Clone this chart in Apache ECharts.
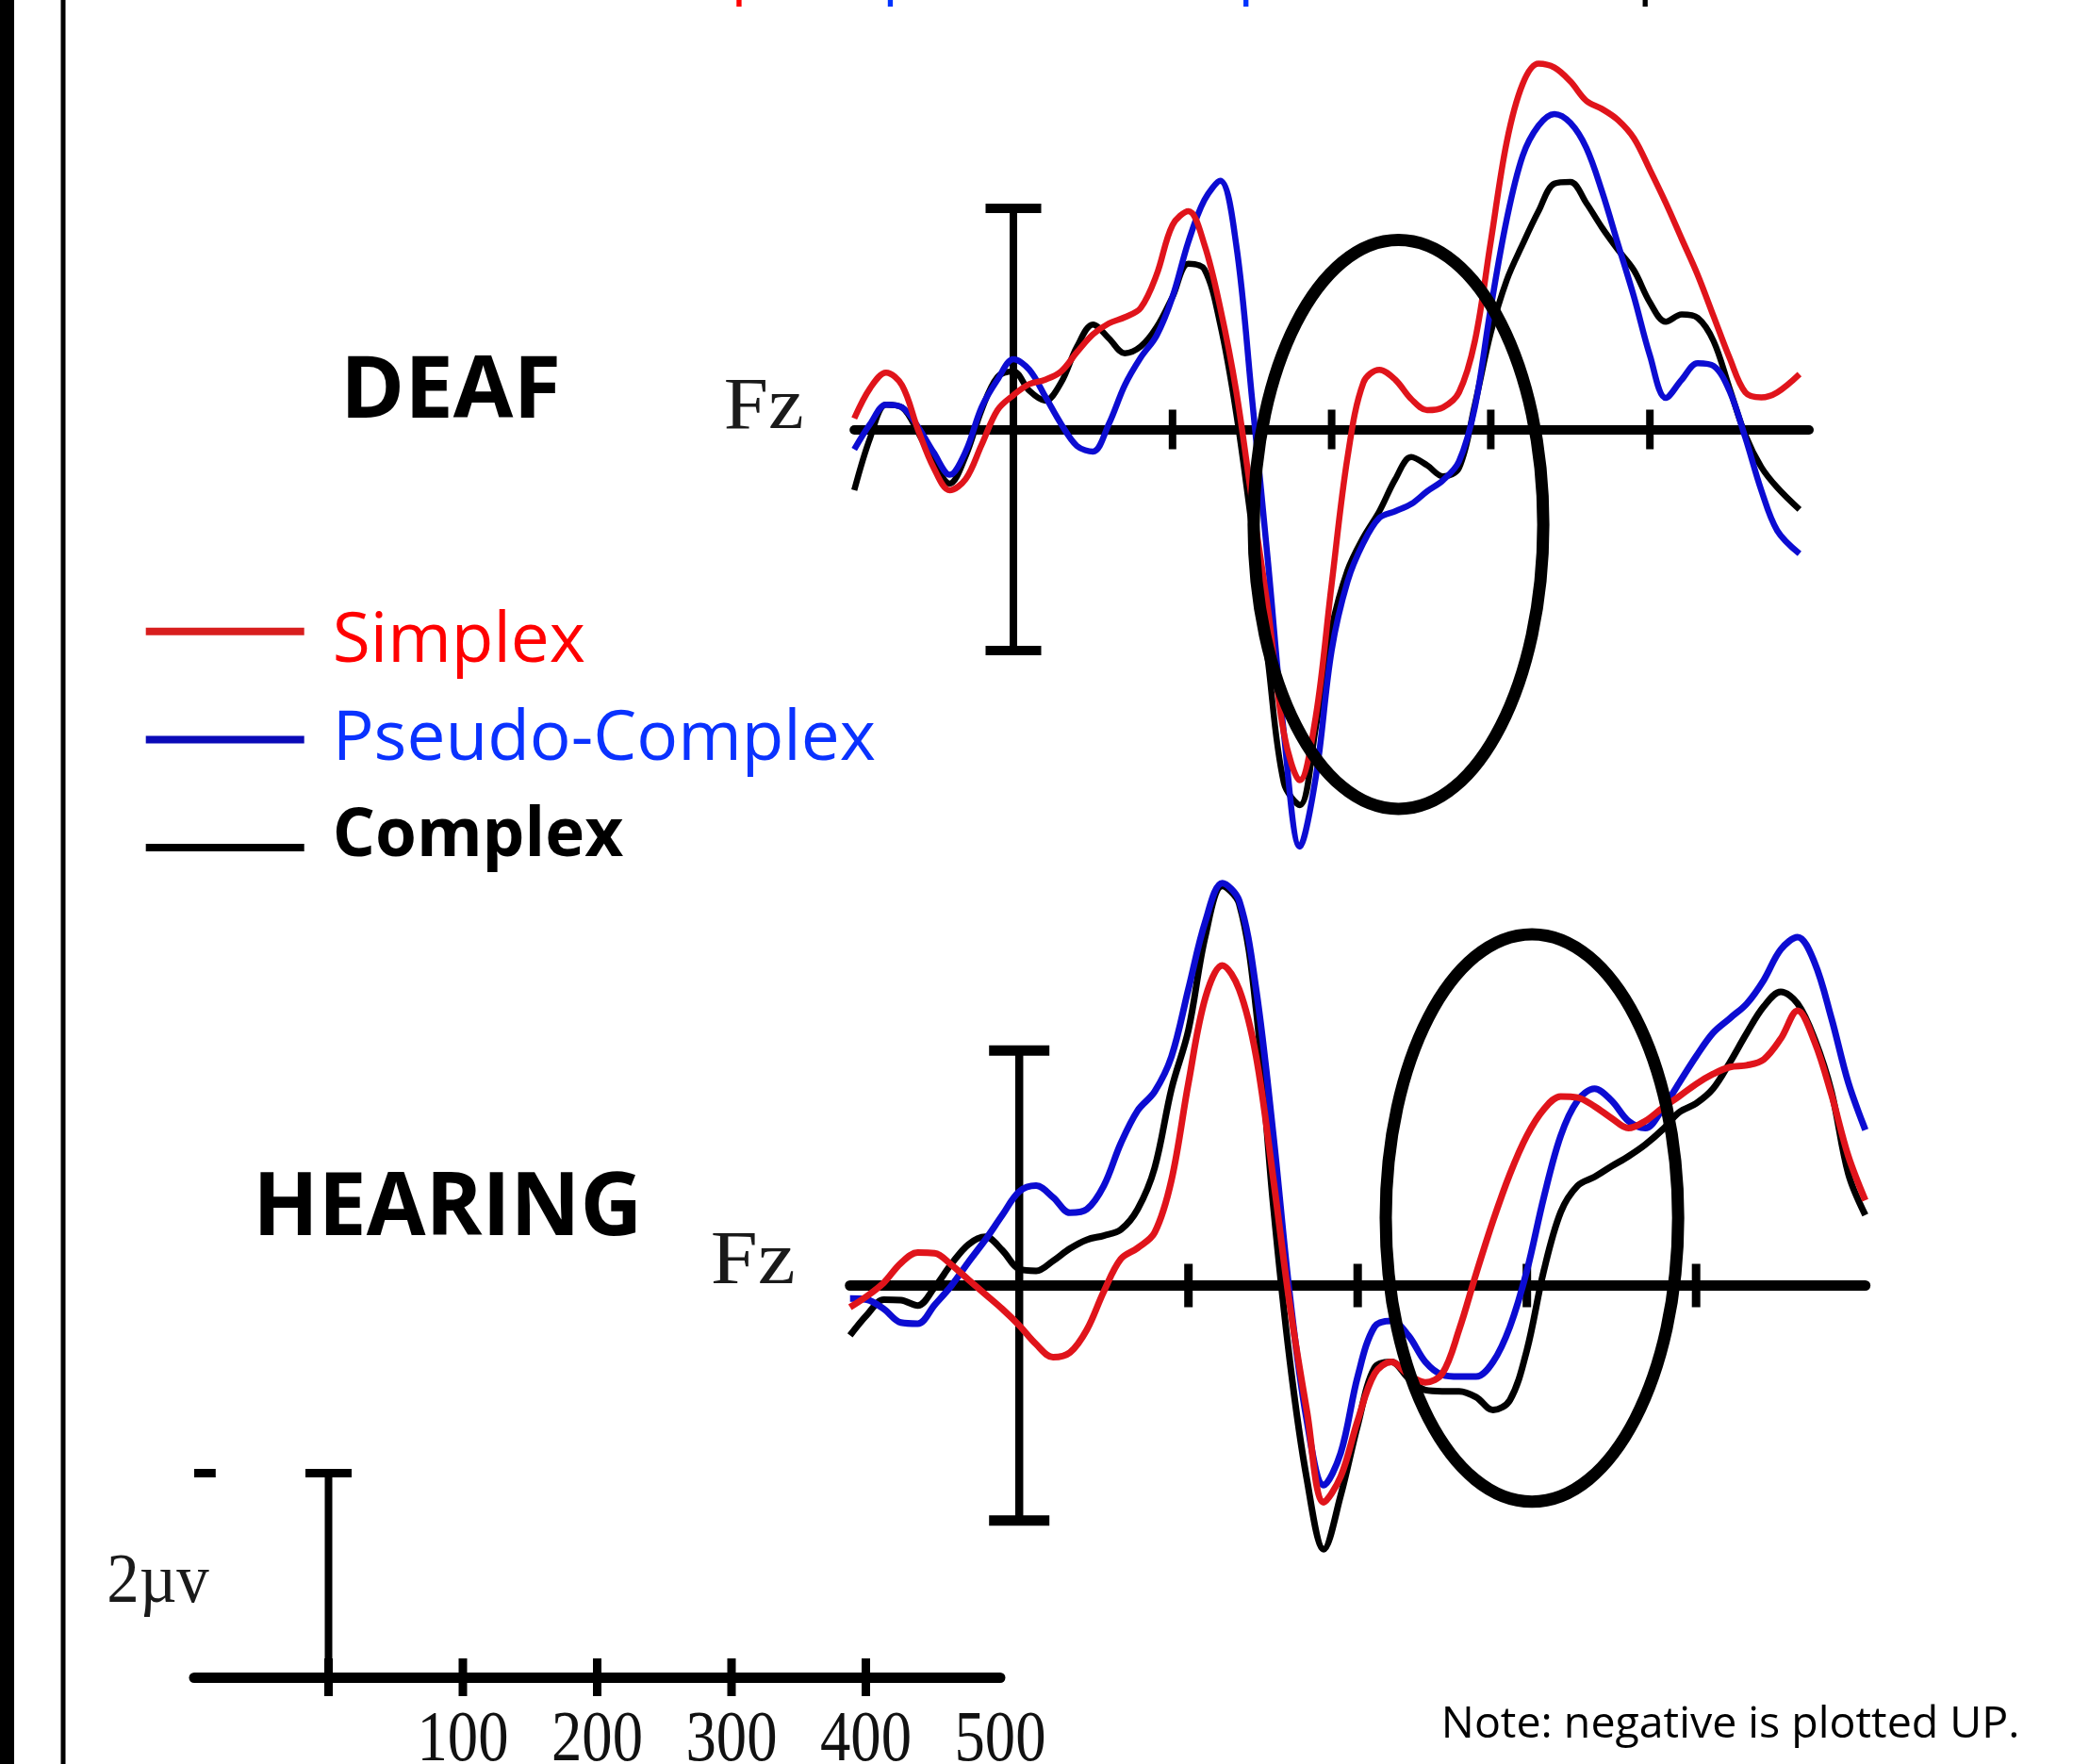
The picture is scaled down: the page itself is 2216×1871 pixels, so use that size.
<!DOCTYPE html>
<html><head><meta charset="utf-8">
<script src="https://cdn.jsdelivr.net/npm/echarts@6/dist/echarts.min.js"></script>
<style>html,body{margin:0;padding:0;background:#fff}#c{width:2216px;height:1871px}</style>
</head><body><div id="c"></div><script>
// ---------------- DATA (µV, negative plotted up; time in ms) ----------------
const timesDeaf = [-100,-90,-80,-70,-60,-50,-40,-30,-20,-10,0,10,20,30,40,50,60,70,80,90,100,110,120,130,140,150,160,170,180,190,200,210,220,230,240,250,260,270,280,290,300,310,320,330,340,350,360,370,380,390,400,410,420,430,440,450,460,470,480,494];
const deafSimplex = [-0.2,-0.75,-1.03,-0.8,0.0,0.7,1.1,0.9,0.28,-0.35,-0.62,-0.82,-0.9,-1.05,-1.4,-1.72,-1.92,-2.03,-2.2,-2.8,-3.7,-3.95,-3.35,-2.2,-0.7,1.3,3.25,5.5,6.35,5.2,2.8,0.5,-0.85,-1.08,-0.9,-0.55,-0.35,-0.4,-0.67,-1.6,-3.4,-5.2,-6.25,-6.62,-6.55,-6.3,-5.95,-5.8,-5.6,-5.27,-4.7,-4.1,-3.45,-2.8,-2.05,-1.3,-0.67,-0.58,-0.67,-1.0];
const deafPseudo = [0.36,-0.1,-0.45,-0.4,-0.05,0.42,0.82,0.4,-0.4,-0.9,-1.27,-1.08,-0.6,-0.1,0.3,0.4,-0.1,-0.8,-1.3,-1.7,-2.4,-3.4,-4.15,-4.5,-3.35,-0.55,2.4,5.5,7.55,6.3,4.0,2.75,2.05,1.6,1.48,1.35,1.12,0.92,0.58,-0.4,-2.2,-3.8,-4.95,-5.5,-5.71,-5.55,-5.1,-4.3,-3.35,-2.4,-1.34,-0.57,-0.9,-1.2,-1.15,-0.7,0.15,1.1,1.83,2.25];
const deafComplex = [1.1,0.15,-0.45,-0.4,0.05,0.6,0.98,0.48,-0.35,-0.95,-1.05,-0.7,-0.52,-0.85,-1.5,-1.9,-1.65,-1.38,-1.5,-1.85,-2.4,-3.0,-2.9,-1.9,-0.3,1.8,4.2,6.4,6.8,5.4,3.6,2.55,1.95,1.48,0.9,0.5,0.65,0.85,0.7,-0.45,-1.75,-2.7,-3.35,-3.95,-4.45,-4.48,-4.1,-3.65,-3.25,-2.88,-2.3,-1.95,-2.08,-2.02,-1.6,-0.75,0.1,0.68,1.05,1.45];

const timesHearing = [-100,-90,-80,-70,-60,-50,-40,-30,-20,-10,0,10,20,30,40,50,60,70,80,90,100,110,120,130,140,150,160,170,180,190,200,210,220,230,240,250,260,270,280,290,300,310,320,330,340,350,360,370,380,390,400,410,420,430,440,450,460,470,480,490,500];
const hearingSimplex = [0.37,0.18,-0.05,-0.38,-0.56,-0.55,-0.35,-0.1,0.15,0.4,0.68,1.0,1.22,1.14,0.75,0.1,-0.45,-0.64,-0.9,-1.8,-3.45,-4.9,-5.45,-5.04,-3.9,-1.85,0.35,2.14,3.69,3.25,2.3,1.5,1.3,1.52,1.65,1.5,0.75,-0.2,-1.1,-1.9,-2.55,-3.0,-3.22,-3.2,-3.05,-2.85,-2.68,-2.8,-3.02,-3.22,-3.43,-3.6,-3.72,-3.75,-3.85,-4.2,-4.68,-4.15,-3.25,-2.2,-1.45];
const hearingPseudo = [0.22,0.24,0.4,0.63,0.65,0.33,0.0,-0.4,-0.78,-1.2,-1.6,-1.7,-1.5,-1.24,-1.3,-1.7,-2.42,-2.98,-3.3,-3.9,-5.05,-6.2,-6.85,-6.55,-5.04,-2.6,0.2,2.3,3.4,2.85,1.55,0.7,0.6,0.85,1.3,1.52,1.55,1.55,1.3,0.7,-0.25,-1.5,-2.55,-3.15,-3.35,-3.15,-2.8,-2.68,-3.0,-3.45,-3.9,-4.3,-4.55,-4.8,-5.2,-5.72,-5.93,-5.5,-4.55,-3.45,-2.65];
const hearingComplex = [0.85,0.5,0.24,0.25,0.34,0.03,-0.37,-0.7,-0.83,-0.6,-0.28,-0.25,-0.42,-0.63,-0.78,-0.85,-0.95,-1.3,-2.0,-3.35,-4.35,-5.95,-6.8,-6.5,-4.7,-1.4,1.3,3.3,4.49,3.57,2.38,1.4,1.3,1.58,1.78,1.8,1.8,1.9,2.12,1.95,1.1,-0.25,-1.25,-1.7,-1.85,-2.03,-2.2,-2.4,-2.65,-2.95,-3.1,-3.35,-3.8,-4.3,-4.75,-5.0,-4.8,-4.2,-3.3,-1.9,-1.2];

const seriesNames = ['Simplex', 'Pseudo-Complex', 'Complex'];
const plotTickTimes = [100, 200, 300, 400];
const calibrationBar = [-4, 4];               // µV extent of the vertical bar at t = 0
const deafEllipse = [242, 1.72, 91, 5.15];      // centre t, centre µV, half-width ms, half-height µV
const hearingEllipse = [303, -1.15, 86.4, 4.83];
const scaleTickTimes = [0, 100, 200, 300, 400];
const scaleTickLabels = [100, 200, 300, 400, 500];
const scaleBarValue = 2;                        // "2µv"
const scaleDash = [-100, -84];

// ---------------- STYLE ----------------
const RED = '#e0141b', BLUE = '#0c0cd2', BLACK = '#000000';
const SANS = '"Open Sans"', SERIF = '"Liberation Serif"';

const mctx = document.createElement('canvas').getContext('2d');
function fitText(text, fontFn, box, fill) {
  mctx.textBaseline = 'middle'; mctx.textAlign = 'left';
  mctx.font = fontFn(100);
  let m = mctx.measureText(text);
  const size = 100 * (box[3] - box[1]) / (m.actualBoundingBoxAscent + m.actualBoundingBoxDescent);
  const font = fontFn(size);
  mctx.font = font;
  m = mctx.measureText(text);
  const sx = (box[2] - box[0]) / (m.actualBoundingBoxLeft + m.actualBoundingBoxRight);
  return { type: 'text', silent: true, x: box[0] + m.actualBoundingBoxLeft * sx, y: box[1] + m.actualBoundingBoxAscent, scaleX: sx,
    style: { text, font, fill, align: 'left', textAlign: 'left', verticalAlign: 'middle', textVerticalAlign: 'middle', lineHeight: size } };
}

const graphics = [
  { type: 'rect', silent: true, shape: { x: 0, y: 0, width: 15, height: 1871 }, style: { fill: '#000' } },
  { type: 'rect', silent: true, shape: { x: 64.5, y: 0, width: 5, height: 1871 }, style: { fill: '#000' } },
  fitText('DEAF', s => `bold ${s}px ${SANS}`, [369, 377, 591, 443.5], '#000'),
  fitText('HEARING', s => `bold ${s}px ${SANS}`, [276, 1242, 675, 1311], '#000'),
  fitText('Fz', s => `${s}px ${SERIF}`, [770, 403, 851, 454.5], '#1a1a1a'),
  fitText('Fz', s => `${s}px ${SERIF}`, [756, 1308, 842, 1361], '#1a1a1a'),
  fitText('2µv', s => `${s}px ${SERIF}`, [116, 1649, 222, 1713], '#1a1a1a'),
  fitText('Note: negative is plotted UP.', s => `${s}px ${SANS}`, [1533, 1806.5, 2139.5, 1852], '#000')
];

// title line cut off at the top edge (only descenders visible)
(function () {
  const size = 65;
  const font = `${size}px ${SANS}`;
  mctx.font = font; mctx.textBaseline = 'middle';
  const wSim = mctx.measureText('Sim').width;
  const mp = mctx.measureText('p');
  let tx = 784 - wSim - (-mp.actualBoundingBoxLeft + 0.05 * size);
  const ty = 7 - mp.actualBoundingBoxDescent;
  [['Simplex', '#ff0000'], [', ', '#000'], ['pseudo-complex,', '#0033ff'], [' and complex', '#000']].forEach(([s, c]) => {
    graphics.push({ type: 'text', silent: true, x: tx, y: ty, style: { text: s, font, fill: c, align: 'left', textAlign: 'left', verticalAlign: 'middle', textVerticalAlign: 'middle', lineHeight: size } });
    tx += mctx.measureText(s).width;
  });
})();

// scale label font fit
const lblSize = (function () { mctx.font = `100px ${SERIF}`; mctx.textBaseline = 'middle'; const m = mctx.measureText('100'); return 100 * 52 / (m.actualBoundingBoxAscent + m.actualBoundingBoxDescent); })();
const lblFont = `${lblSize}px ${SERIF}`;
mctx.font = lblFont;
const lblM = mctx.measureText('100');
const lblSx = 90 / (lblM.actualBoundingBoxLeft + lblM.actualBoundingBoxRight);
const lblAscent = lblM.actualBoundingBoxAscent;

// ---------------- HELPERS ----------------
function lineSeries(name, times, vals, color, gi, width) {
  return { type: 'line', name, xAxisIndex: gi, yAxisIndex: gi, data: times.map((t, i) => [t, vals[i]]),
    smooth: 0.35, symbol: 'none', showSymbol: false, clip: false, silent: true,
    lineStyle: { color, width }, itemStyle: { color } };
}
function calBarSeries(gi, capW, barW, capH) {
  return { type: 'custom', xAxisIndex: gi, yAxisIndex: gi, silent: true, z: 3, data: [[0, calibrationBar[0], calibrationBar[1]]],
    renderItem: (p, api) => {
      const a = api.coord([api.value(0), api.value(1)]);
      const b = api.coord([api.value(0), api.value(2)]);
      return { type: 'group', children: [
        { type: 'rect', shape: { x: a[0] - barW / 2, y: a[1], width: barW, height: b[1] - a[1] }, style: { fill: '#000' } },
        { type: 'rect', shape: { x: a[0] - capW / 2, y: a[1] - capH / 2, width: capW, height: capH }, style: { fill: '#000' } },
        { type: 'rect', shape: { x: b[0] - capW / 2, y: b[1] - capH / 2, width: capW, height: capH }, style: { fill: '#000' } }
      ] };
    } };
}
function ellipseSeries(gi, e, lw) {
  return { type: 'custom', xAxisIndex: gi, yAxisIndex: gi, silent: true, z: 10, data: [e],
    renderItem: (p, api) => {
      const c = api.coord([api.value(0), api.value(1)]);
      const s = api.size([api.value(2), api.value(3)]);
      return { type: 'ellipse', shape: { cx: c[0], cy: c[1], rx: s[0], ry: s[1] }, style: { fill: null, stroke: '#000', lineWidth: lw } };
    } };
}
function tickSeries(gi, times, size) {
  return { type: 'scatter', xAxisIndex: gi, yAxisIndex: gi, silent: true, symbol: 'rect', symbolSize: size, z: 1,
    data: times.map(t => [t, 0]), itemStyle: { color: '#000', opacity: 1 } };
}
function plotXAxis(gi, w) {
  return { type: 'value', gridIndex: gi, min: -100, max: 500, interval: 100,
    axisLine: { show: true, onZero: true, lineStyle: { color: '#000', width: w } },
    axisTick: { show: false }, axisLabel: { show: false }, splitLine: { show: false } };
}
function plotYAxis(gi, min, max, inverse) {
  return { type: 'value', gridIndex: gi, min, max, inverse, show: false, splitLine: { show: false } };
}

// legend rich-text keys: text style + spacer lines that offset each label against its line sample
const legendKeys = { 'Simplex': ['t1', 'a', 'b1'], 'Pseudo-Complex': ['t2', 'b', 'b2'], 'Complex': ['t3', 'c', 'b3'] };

// ---------------- CHART ----------------
const chart = echarts.init(document.getElementById('c'), null, { renderer: 'canvas' });
chart.setOption({
  animation: false,
  backgroundColor: '#ffffff',
  grid: [
    { left: 906.2, top: 45.3, width: 1012.8, height: 879, outerBoundsMode: 'none', containLabel: false },
    { left: 901.7, top: 865.1, width: 1077, height: 809.9, outerBoundsMode: 'none', containLabel: false },
    { left: 206, top: 1562.5, width: 855, height: 216.5, outerBoundsMode: 'none', containLabel: false }
  ],
  xAxis: [
    plotXAxis(0, 10),
    plotXAxis(1, 11),
    { type: 'value', gridIndex: 2, min: -100, max: 500, interval: 100,
      axisLine: { show: true, onZero: true, lineStyle: { color: '#000', width: 11 } },
      axisTick: { show: false }, axisLabel: { show: false }, splitLine: { show: false } }
  ],
  yAxis: [
    plotYAxis(0, -7, 8, true),
    plotYAxis(1, -8, 5, true),
    plotYAxis(2, 0, 2, false)
  ],
  legend: {
    orient: 'vertical', left: 154.7, top: 639, padding: 0, itemWidth: 168, itemHeight: 8, itemGap: 30.5,
    icon: 'rect', selectedMode: false,
    formatter: name => { const k = legendKeys[name]; return `{${k[0]}| }\n{${k[1]}|${name}}\n{${k[2]}| }`; },
    textStyle: {
      fontFamily: 'Open Sans', fontSize: 72, color: '#000', padding: [0, 0, 0, 25],
      rich: {
        a: { color: '#ff0000', fontSize: 73, lineHeight: 60, fontFamily: 'Open Sans' },
        b: { color: '#0a32ff', fontSize: 73, lineHeight: 60, fontFamily: 'Open Sans' },
        c: { color: '#000000', fontSize: 71, lineHeight: 60, fontWeight: 'bold', fontFamily: 'Open Sans' },
        t1: { fontSize: 1, lineHeight: 23.5 }, b1: { fontSize: 1, lineHeight: 0.5 },
        t2: { fontSize: 1, lineHeight: 12.5 }, b2: { fontSize: 1, lineHeight: 11.5 },
        t3: { fontSize: 1, lineHeight: 0.5 }, b3: { fontSize: 1, lineHeight: 23.5 }
      }
    },
    data: [
      { name: seriesNames[0], icon: 'rect', itemStyle: { color: '#d81e1e' } },
      { name: seriesNames[1], icon: 'rect', itemStyle: { color: '#0a0ab8' } },
      { name: seriesNames[2], icon: 'rect', itemStyle: { color: '#000000' } }
    ]
  },
  graphic: { elements: graphics },
  series: [
    tickSeries(0, plotTickTimes, [8, 42]),
    calBarSeries(0, 59, 8, 10),
    lineSeries(seriesNames[2], timesDeaf, deafComplex, BLACK, 0, 6.5),
    lineSeries(seriesNames[1], timesDeaf, deafPseudo, BLUE, 0, 6.5),
    lineSeries(seriesNames[0], timesDeaf, deafSimplex, RED, 0, 6.5),
    ellipseSeries(0, deafEllipse, 13),

    tickSeries(1, plotTickTimes, [9, 46]),
    calBarSeries(1, 64, 8.5, 11),
    lineSeries(seriesNames[2], timesHearing, hearingComplex, BLACK, 1, 7),
    lineSeries(seriesNames[1], timesHearing, hearingPseudo, BLUE, 1, 7),
    lineSeries(seriesNames[0], timesHearing, hearingSimplex, RED, 1, 7),
    ellipseSeries(1, hearingEllipse, 13),

    // scale bar
    tickSeries(2, scaleTickTimes, [9, 40]),
    { type: 'custom', xAxisIndex: 2, yAxisIndex: 2, silent: true, z: 3, data: [[0, 0, scaleBarValue]],
      renderItem: (p, api) => {
        const a = api.coord([api.value(0), api.value(2)]);
        const b = api.coord([api.value(0), api.value(1)]);
        return { type: 'group', children: [
          { type: 'rect', shape: { x: a[0] - 4, y: a[1], width: 8, height: b[1] - a[1] }, style: { fill: '#000' } },
          { type: 'rect', shape: { x: a[0] - 24.5, y: a[1] - 4.5, width: 49, height: 9 }, style: { fill: '#000' } }
        ] };
      } },
    { type: 'line', xAxisIndex: 2, yAxisIndex: 2, silent: true, symbol: 'none', clip: false,
      data: scaleDash.map(t => [t, scaleBarValue]), lineStyle: { color: '#000', width: 9 } },
    { type: 'custom', xAxisIndex: 2, yAxisIndex: 2, silent: true, z: 3, data: scaleTickLabels.map(t => [t, 0]),
      renderItem: (p, api) => {
        const c = api.coord([api.value(0), 0]);
        return { type: 'text', x: c[0], y: c[1] + 37 + lblAscent, scaleX: lblSx,
          style: { text: String(api.value(0)), font: lblFont, fill: '#111', align: 'center', textAlign: 'center', verticalAlign: 'middle', textVerticalAlign: 'middle', lineHeight: lblSize } };
      } }
  ]
});
</script></body></html>
